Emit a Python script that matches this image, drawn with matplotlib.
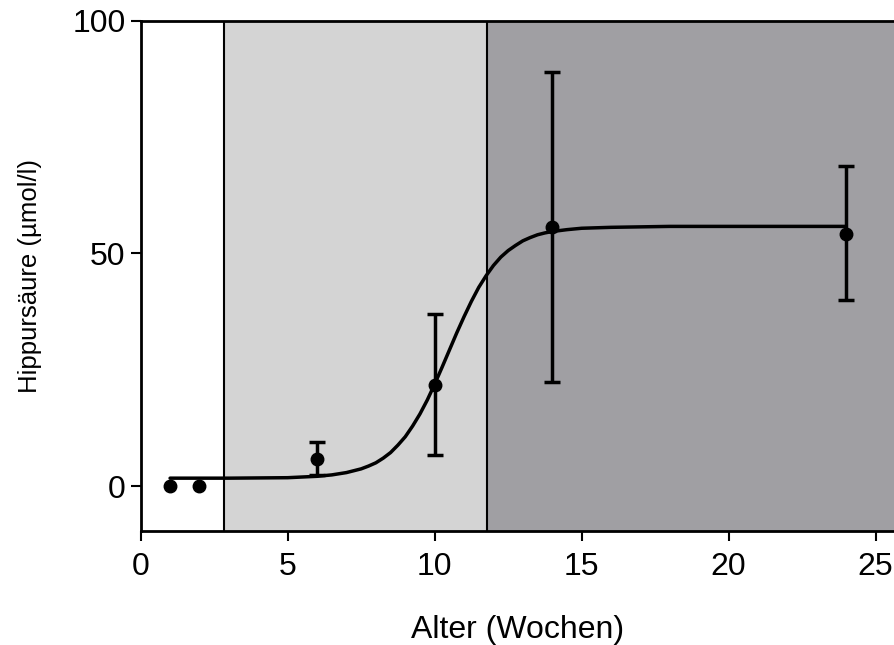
import matplotlib
matplotlib.use("Agg")
import matplotlib.pyplot as plt

plt.rcParams['font.family'] = ['Liberation Sans', 'DejaVu Sans']

# measured data (weeks, mean, error)
age = [1, 2, 6, 10, 14, 24]
hippur = [0.0, 0.0, 5.9, 21.8, 55.6, 54.2]
err_lo = [0.0, 0.0, 3.6, 15.2, 33.2, 14.3]
err_hi = [0.0, 0.0, 3.6, 15.2, 33.4, 14.5]

# fitted curve
curve_x = [1, 2, 3, 4, 5, 6, 6.5, 7, 7.5, 7.75, 8, 8.25, 8.5, 8.75, 9, 9.25,
           9.5, 9.75, 10, 10.25, 10.5, 10.75, 11, 11.25, 11.5, 11.75, 12,
           12.25, 12.5, 12.75, 13, 13.25, 13.5, 13.75, 14, 14.5, 15, 16, 18, 24]
curve_y = [1.7, 1.7, 1.7, 1.75, 1.8, 2.1, 2.4, 2.9, 3.7, 4.3, 5.0, 6.0, 7.2,
           8.8, 10.6, 12.9, 15.5, 18.5, 21.9, 25.5, 29.2, 32.9, 36.4, 39.7,
           42.7, 45.2, 47.4, 49.2, 50.6, 51.7, 52.7, 53.4, 54.0, 54.4, 54.7,
           55.1, 55.4, 55.6, 55.8, 55.8]

# shaded phases
phase_edges = [2.82, 11.77, 25.66]
phase_colors = ['#d4d4d4', '#a09fa3']

xticks = [0, 5, 10, 15, 20, 25]
yticks = [0, 50, 100]

fig = plt.figure(figsize=(8.95, 6.45), dpi=100)
ax = fig.add_axes([0.1572, 0.1767, 0.8428, 0.7912])
ax.set_xlim(0, 25.66)
ax.set_ylim(-9.66, 100)

for i, c in enumerate(phase_colors):
    ax.axvspan(phase_edges[i], phase_edges[i + 1], color=c, zorder=0, lw=0)
    ax.axvline(phase_edges[i], color='black', lw=1.5, zorder=1)

ax.plot(curve_x, curve_y, color='black', lw=2.5, zorder=3,
        solid_capstyle='round', solid_joinstyle='round')

# points
ax.plot(age, hippur, 'o', color='black', ms=9, zorder=5)
# error bars only where an error exists
ex = [a for a, l, h in zip(age, err_lo, err_hi) if l + h > 0]
ey = [v for v, l, h in zip(hippur, err_lo, err_hi) if l + h > 0]
el = [l for l, h in zip(err_lo, err_hi) if l + h > 0]
eh = [h for l, h in zip(err_lo, err_hi) if l + h > 0]
ax.errorbar(ex, ey, yerr=[el, eh], fmt='none', ecolor='black',
            elinewidth=2.5, capsize=5.5, capthick=2.5, zorder=4)

for s in ['left', 'bottom', 'top']:
    ax.spines[s].set_linewidth(2)
    ax.spines[s].set_color('black')
ax.spines['right'].set_visible(False)

ax.set_xticks(xticks)
ax.set_yticks(yticks)
ax.tick_params(direction='out', length=7, width=1.5, labelsize=23)
ax.tick_params(axis='x', pad=8)
ax.tick_params(axis='y', pad=4)
ax.set_xlabel('Alter (Wochen)', fontsize=23, labelpad=24)
ax.set_ylabel('Hippursäure (µmol/l)', fontsize=18.5, labelpad=22)

fig.savefig('out.png', dpi=100)
